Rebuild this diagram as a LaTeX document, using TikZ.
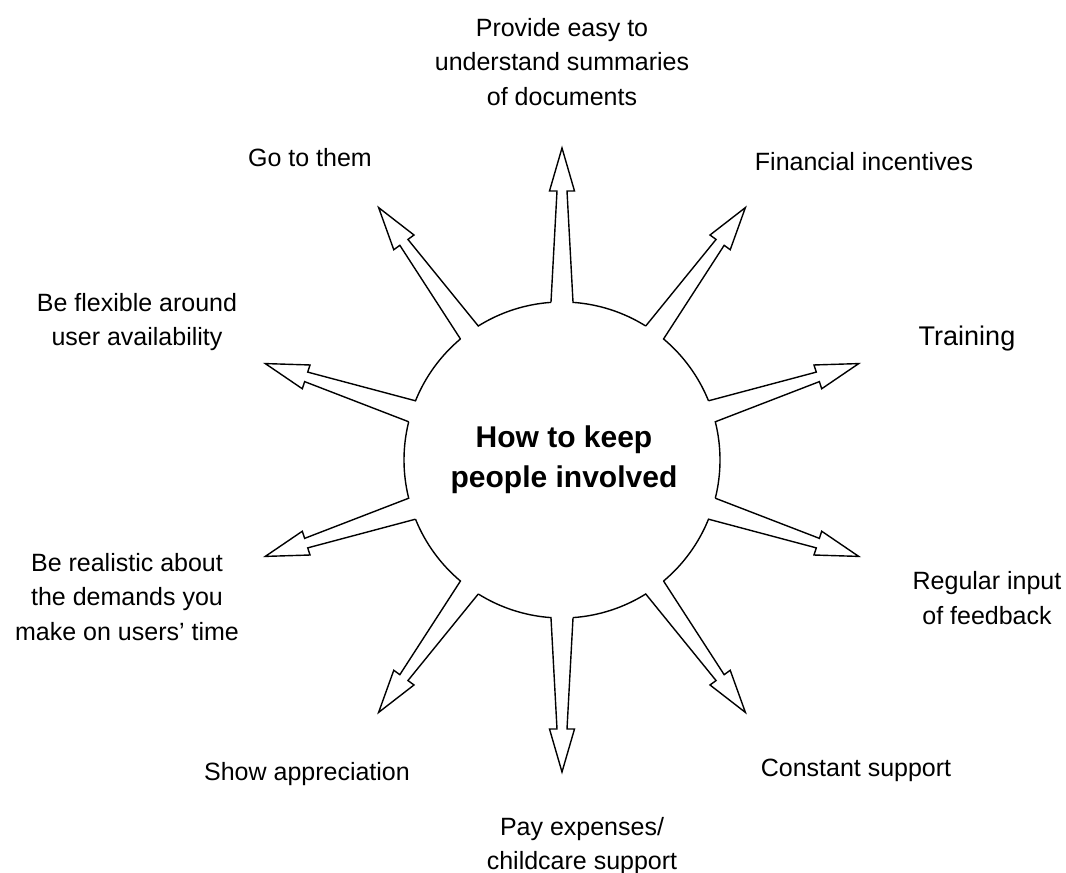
\documentclass[tikz,border=0pt]{standalone}
\usepackage{fontspec}
\setmainfont{Liberation Sans}
\usetikzlibrary{calc}
\def\spike[#1](#2)(#3){\draw[#1,shift={(#2)},rotate=#3] (4:158) -- (269,5) -- (269,12.5) -- (312,0) -- (269,-12.5) -- (269,-5) -- (-4:158) arc[start angle=-4, end angle=-32, radius=158];}

\begin{document}
\begin{tikzpicture}[x=1pt, y=1pt,
	spikeline/.style={line width=1.4pt, line join=miter},
	lbl/.style={font=\fontsize{25}{34.6}\selectfont, align=center, inner sep=0pt},
	title/.style={font=\bfseries\fontsize{30}{40}\selectfont, align=center, inner sep=0pt}]
			%%%%% START %%%%%
			
			\useasboundingbox (0, 0) rectangle (1066, 873);
			
			\coordinate (hubc) at (562, 413);
			\node[title] (hub) at (564, 413) {How to keep\\people involved};
			
			\spike[spikeline](hubc)(90)
			\spike[spikeline](hubc)(54)
			\spike[spikeline](hubc)(18)
			\spike[spikeline](hubc)(-18)
			\spike[spikeline](hubc)(-54)
			\spike[spikeline](hubc)(-90)
			\spike[spikeline](hubc)(-126)
			\spike[spikeline](hubc)(-162)
			\spike[spikeline](hubc)(162)
			\spike[spikeline](hubc)(126)
			
			\node[lbl] (summaries) at (562, 811) {Provide easy to\\understand summaries\\of documents};
			\node[lbl] (incentives) at (864, 711) {Financial incentives};
			\node[lbl, font=\fontsize{27}{34.6}\selectfont] (training) at (967, 534) {Training};
			\node[lbl] (feedback) at (987, 275) {Regular input\\of feedback};
			\node[lbl] (support) at (856, 103) {Constant support};
			\node[lbl] (expenses) at (582, 27) {Pay expenses/\\childcare support};
			\node[lbl] (appreciation) at (307, 99) {Show appreciation};
			\node[lbl] (realistic) at (127, 276) {Be realistic about\\the demands you\\make on users’ time};
			\node[lbl] (flexible) at (137, 551) {Be flexible around\\user availability};
			\node[lbl] (gothem) at (310, 715) {Go to them};
			
			%%%%% END %%%%%
\end{tikzpicture}
\end{document}
